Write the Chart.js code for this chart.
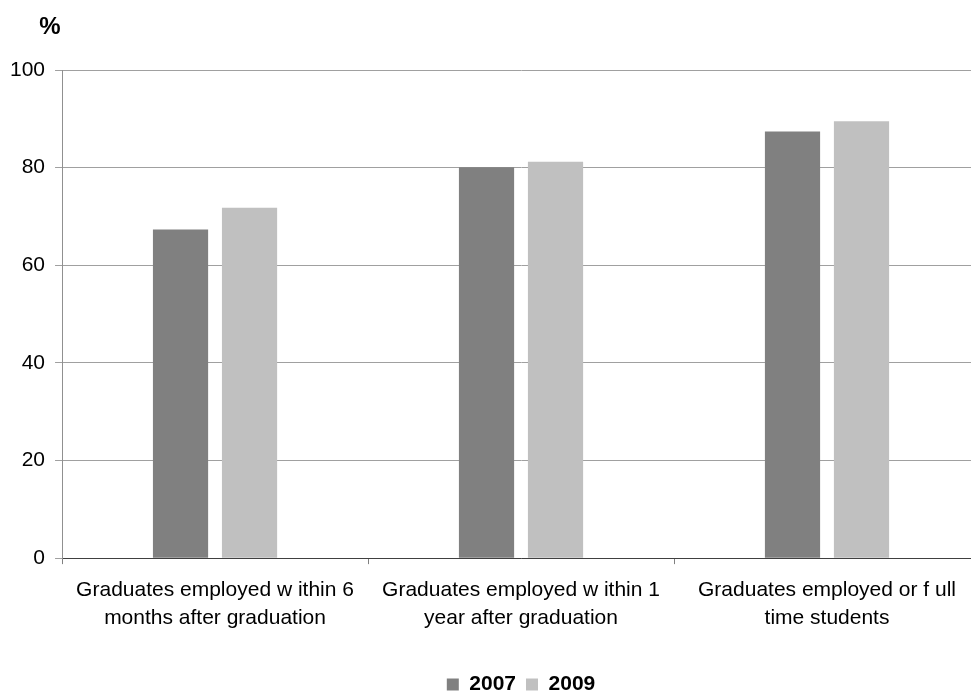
<!DOCTYPE html>
<html>
<head>
<meta charset="utf-8">
<script src="https://cdn.jsdelivr.net/npm/chart.js@4/dist/chart.umd.min.js"></script>
<style>
    html, body { margin: 0; padding: 0; overflow: hidden; background: #fff; }
</style>
</head>
<body>
<canvas id="grad_chart" width="980" height="695"></canvas>
<script>
const categories = [
    ["Graduates employed w ithin 6", "months after graduation"],
    ["Graduates employed w ithin 1", "year after graduation"],
    ["Graduates employed or f ull", "time students"]
];
const seriesNames = ["2007", "2009"];
const values2007 = [67.3, 80.1, 87.4];
const values2009 = [71.8, 81.2, 89.5];
const yTicks = [0, 20, 40, 60, 80, 100];

const fontFamily = '"Liberation Sans", Arial, sans-serif';

// "%" label above the y axis
const percentLabel = {
    id: 'percentLabel',
    afterDraw(chart) {
        const ctx = chart.ctx;
        ctx.save();
        ctx.font = 'bold 24px ' + fontFamily;
        ctx.fillStyle = '#000';
        ctx.textAlign = 'center';
        ctx.textBaseline = 'middle';
        ctx.fillText('%', chart.chartArea.left - 12, chart.chartArea.top - 43);
        ctx.restore();
    }
};

const ctx = document.getElementById('grad_chart').getContext('2d');

new Chart(ctx, {
    type: 'bar',
    data: {
        labels: categories,
        datasets: [{
            label: seriesNames[0],
            data: values2007,
            backgroundColor: '#808080',
            categoryPercentage: 0.451,
            barPercentage: 0.8
        }, {
            label: seriesNames[1],
            data: values2009,
            backgroundColor: '#c0c0c0',
            categoryPercentage: 0.451,
            barPercentage: 0.8
        }]
    },
    options: {
        responsive: false,
        animation: false,
        layout: {
            padding: { top: 70, left: 0, right: 0, bottom: -10 }
        },
        scales: {
            x: {
                grid: {
                    offset: true,
                    drawOnChartArea: false,
                    drawTicks: true,
                    tickLength: 6,
                    color: '#808080'
                },
                border: { color: '#404040', width: 1 },
                ticks: {
                    color: '#000',
                    padding: 12,
                    maxRotation: 0,
                    autoSkip: false,
                    font: { family: fontFamily, size: 21, lineHeight: 1.33 }
                },
                afterFit: (scale) => { scale.height += 20; }
            },
            y: {
                min: 0,
                max: 100,
                afterBuildTicks: (scale) => { scale.ticks = yTicks.map(v => ({ value: v })); },
                grid: {
                    color: '#a0a0a0',
                    drawTicks: true,
                    tickLength: 7
                },
                border: { color: '#909090', width: 1 },
                ticks: {
                    color: '#000',
                    padding: 10,
                    font: { family: fontFamily, size: 21 }
                }
            }
        },
        plugins: {
            legend: {
                position: 'bottom',
                fullSize: false,
                labels: {
                    color: '#000',
                    boxWidth: 12,
                    boxHeight: 12,
                    padding: 10,
                    font: { family: fontFamily, size: 21, weight: 'bold' }
                }
            },
            tooltip: { enabled: false }
        }
    },
    plugins: [percentLabel]
});
</script>
</body>
</html>
